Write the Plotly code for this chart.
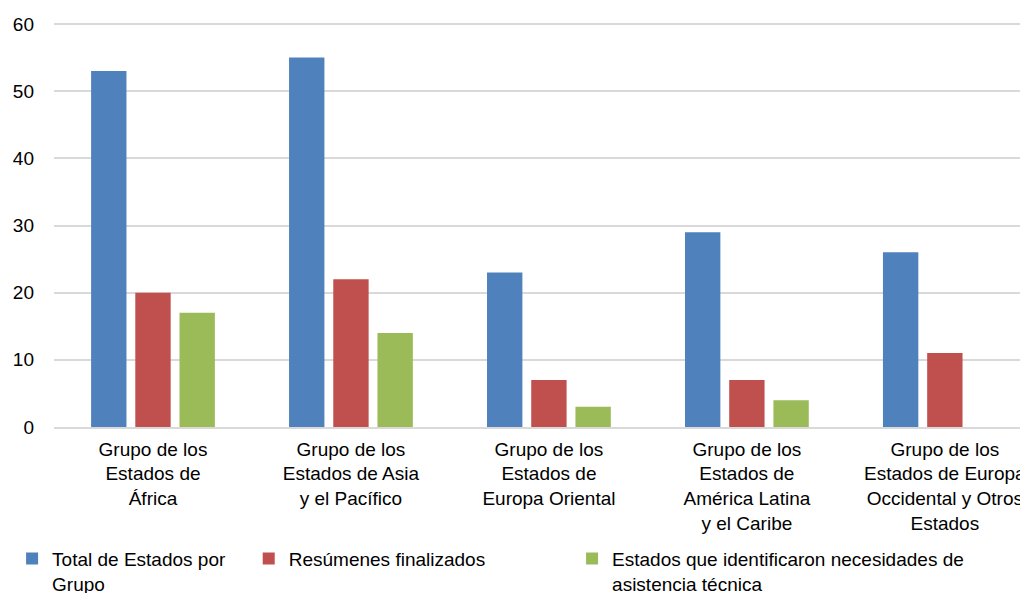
import plotly.graph_objects as go

categories = [
    "Grupo de los<br>Estados de<br>África",
    "Grupo de los<br>Estados de Asia<br>y el Pacífico",
    "Grupo de los<br>Estados de<br>Europa Oriental",
    "Grupo de los<br>Estados de<br>América Latina<br>y el Caribe",
    "Grupo de los<br>Estados de Europa<br>Occidental y Otros<br>Estados",
]
series_names = [
    "Total de Estados por<br>Grupo",
    "Resúmenes finalizados",
    "Estados que identificaron necesidades de<br>asistencia técnica",
]
total_estados = [53, 55, 23, 29, 26]
resumenes = [20, 22, 7, 7, 11]
asistencia = [17, 14, 3, 4, 0]
y_ticks = [0, 10, 20, 30, 40, 50, 60]

colors = ["#4F81BD", "#C0504D", "#9BBB59"]
FONT = "Liberation Sans, Arial, sans-serif"

fig = go.Figure()
values = [total_estados, resumenes, asistencia]
legend_ids = ["legend", "legend2", "legend3"]
for name, vals, col, lg in zip(series_names, values, colors, legend_ids):
    fig.add_trace(go.Bar(
        x=categories, y=vals, name=name, marker_color=col,
        marker_line_width=0, legend=lg,
    ))

legend_common = dict(
    orientation="v", xref="container", yref="container",
    yanchor="top", xanchor="left", y=0.091,
    font=dict(family=FONT, size=19, color="#000000"),
    bgcolor="rgba(0,0,0,0)", valign="top", itemwidth=30,
    tracegroupgap=0, borderwidth=0,
)

fig.update_layout(
    width=1020, height=585,
    margin=dict(l=46, r=0, t=14, b=166, autoexpand=False),
    paper_bgcolor="white", plot_bgcolor="white",
    barmode="group", bargap=0.33, bargroupgap=0.2,
    font=dict(family=FONT, size=19, color="#000000"),
    showlegend=True,
    legend=dict(legend_common, x=0.004),
    legend2=dict(legend_common, x=0.236),
    legend3=dict(legend_common, x=0.553),
    xaxis=dict(
        type="category", range=[-0.5, 4.42],
        showline=True, linecolor="#D9D9D9", linewidth=1.5,
        ticks="", tickfont=dict(size=19, color="#000000"),
        ticklabeloverflow="allow", automargin=False,
        ticklabelstandoff=4,
    ),
    yaxis=dict(
        range=[0, 60.3], tickvals=y_ticks, showgrid=True,
        gridcolor="#D9D9D9", gridwidth=1.5, zeroline=False,
        ticks="", ticklabelstandoff=19, automargin=False,
        tickfont=dict(size=19, color="#000000"),
    ),
)

fig.write_html("out.html")
